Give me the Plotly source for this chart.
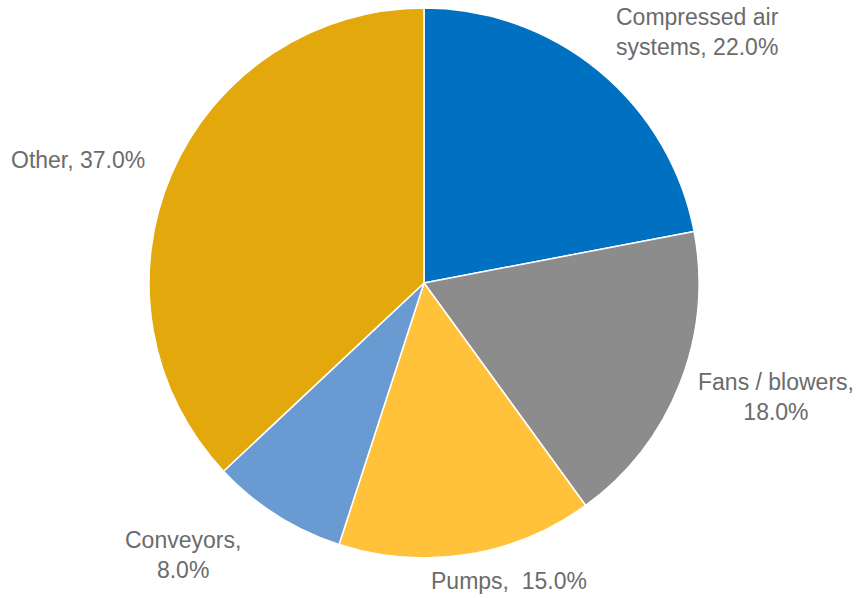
import math
import plotly.graph_objects as go

# Industrial motor-system electricity use by application
categories = ["Compressed air systems", "Fans / blowers", "Pumps", "Conveyors", "Other"]
shares = [22.0, 18.0, 15.0, 8.0, 37.0]
label_texts = [
    "Compressed air<br>systems, 22.0%",
    "Fans / blowers,<br>18.0%",
    "Pumps,  15.0%",
    "Conveyors,<br>8.0%",
    "Other, 37.0%",
]

colors = ["#0070C0", "#8C8C8C", "#FFC23A", "#6A9AD2", "#E3A80C"]

W, H = 859, 598
cx, cy, r = 424, 283, 275

fig = go.Figure(
    go.Pie(
        labels=categories,
        values=shares,
        sort=False,
        direction="clockwise",
        rotation=0,
        textinfo="none",
        hoverinfo="label+percent",
        marker=dict(colors=colors, line=dict(color="white", width=1.5)),
        domain=dict(x=[(cx - r) / W, (cx + r) / W],
                    y=[(H - cy - r) / H, (H - cy + r) / H]),
        showlegend=False,
    )
)

# Label placement: angle (clockwise from 12 o'clock) and distance from centre in px
label_place = [(47.4, 371), (108.0, 370), (164.0, 310), (221.5, 363), (289.6, 367)]
for txt, (ang, dist) in zip(label_texts, label_place):
    a = math.radians(ang)
    px = cx + dist * math.sin(a)
    py = cy - dist * math.cos(a)
    fig.add_annotation(
        x=px / W, y=1 - py / H, xref="paper", yref="paper",
        text=txt, showarrow=False, align="center",
        xanchor="center", yanchor="middle",
        font=dict(family="Liberation Sans, Arial, sans-serif", size=23, color="#6B6B6B"),
    )

fig.update_layout(
    width=W, height=H,
    margin=dict(l=0, r=0, t=0, b=0),
    paper_bgcolor="white",
    plot_bgcolor="white",
)

fig.write_html("out.html")
